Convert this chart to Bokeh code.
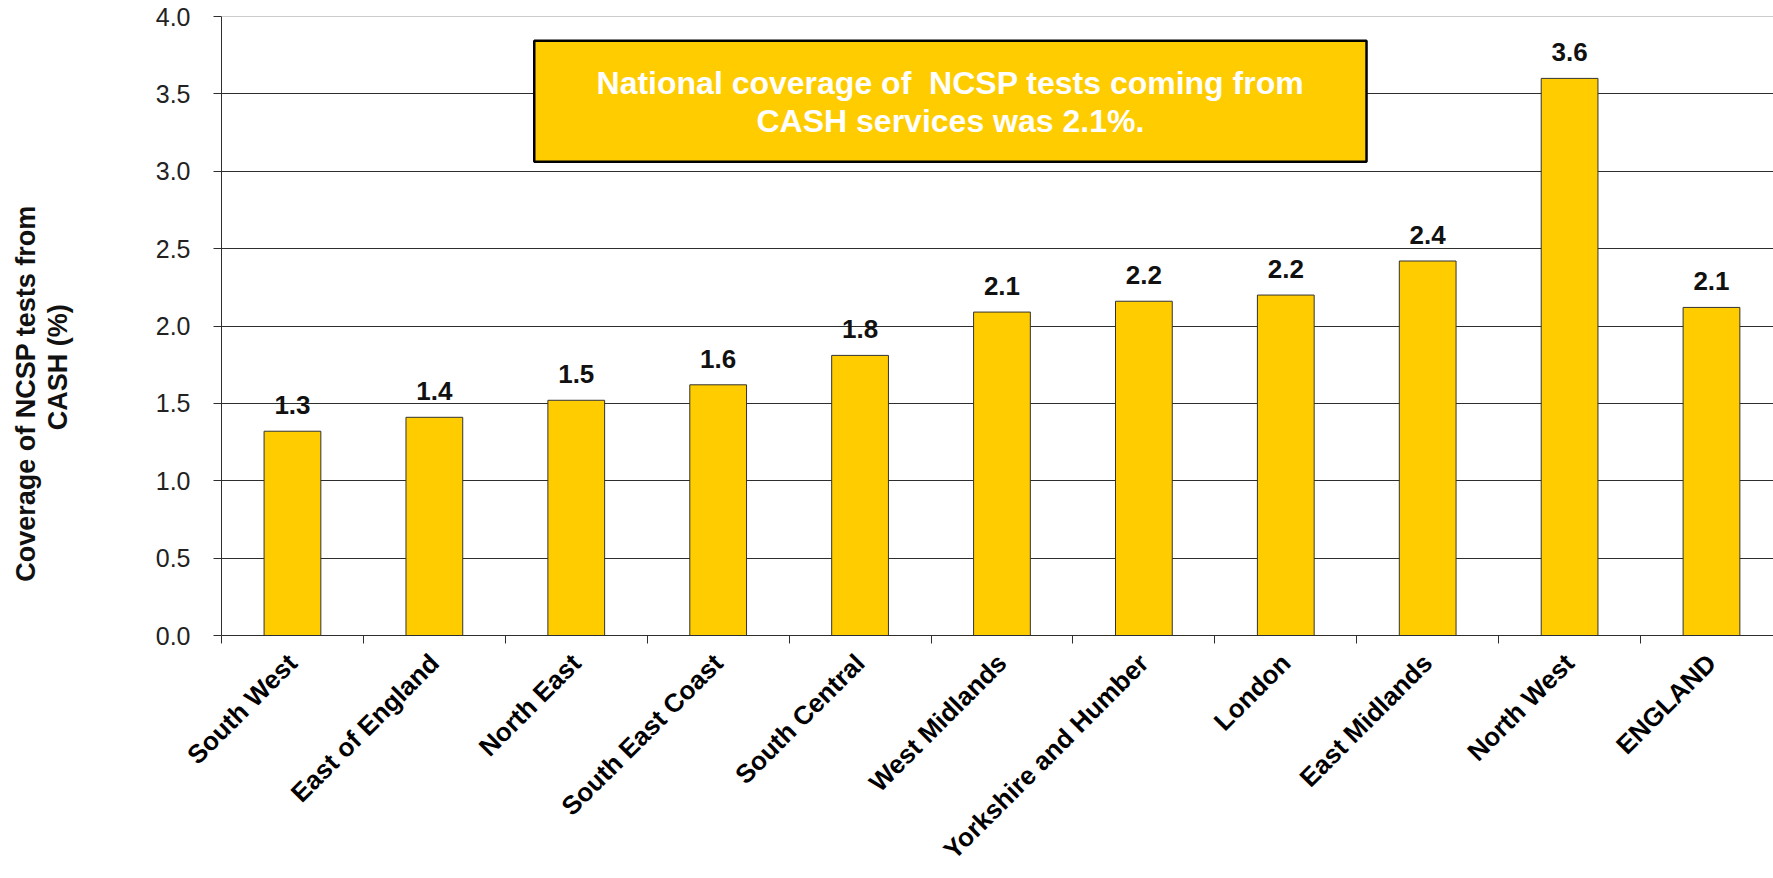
import math
from bokeh.plotting import figure
from bokeh.models import (Range1d, FixedTicker, NumeralTickFormatter, ColumnDataSource,
                          LabelSet, BoxAnnotation, Label, Span)
from bokeh.embed import file_html
from bokeh.resources import INLINE
from bokeh.core.properties import value

# ---------------- data ----------------
regions = ["South West", "East of England", "North East", "South East Coast",
           "South Central", "West Midlands", "Yorkshire and Humber", "London",
           "East Midlands", "North West", "ENGLAND"]
coverage = [1.32, 1.41, 1.52, 1.62, 1.81, 2.09, 2.16, 2.20, 2.42, 3.60, 2.12]
value_labels = ["1.3", "1.4", "1.5", "1.6", "1.8", "2.1", "2.2", "2.2", "2.4", "3.6", "2.1"]
y_ticks = [0.0, 0.5, 1.0, 1.5, 2.0, 2.5, 3.0, 3.5, 4.0]
note_lines = ["National coverage of \u00a0NCSP tests coming from",
              "CASH services was 2.1%."]
y_title_lines = ["Coverage of NCSP tests from", "CASH (%)"]

# ---------------- layout ----------------
n = len(regions)
centers = [i + 0.5 for i in range(n)]
boundaries = list(range(n + 1))

FONT = "Liberation Sans"
GOLD = "#FFCC00"
DARK = "#2e2e2e"

p = figure(width=1773, height=878,
           x_range=Range1d(0, 10.937), y_range=Range1d(0, 4.0),
           output_backend="svg", toolbar_location=None,
           min_border_left=221, min_border_right=0,
           min_border_top=16, min_border_bottom=242)
p.outline_line_color = None
p.background_fill_color = "white"
p.border_fill_color = "white"

# bars
src = ColumnDataSource(dict(x=centers, top=coverage, lab=value_labels))
p.vbar(x="x", top="top", bottom=0, width=0.4, source=src,
       fill_color=GOLD, line_color="#333333", line_width=1)

# grid
p.xgrid.grid_line_color = None
p.ygrid.ticker = FixedTicker(ticks=y_ticks[:-1])
p.ygrid.grid_line_color = DARK
p.ygrid.grid_line_width = 1
p.add_layout(Span(location=y_ticks[-1], dimension="width",
                  line_color="#9a9a9a", line_width=1))

# y axis
ya = p.yaxis[0]
ya.ticker = FixedTicker(ticks=y_ticks, minor_ticks=[])
ya.formatter = NumeralTickFormatter(format="0.0")
ya.major_tick_out = 8
ya.major_tick_in = 0
ya.minor_tick_line_color = None
ya.axis_line_color = DARK
ya.major_tick_line_color = DARK
ya.major_label_text_font = FONT
ya.major_label_text_font_size = "25px"
ya.major_label_text_color = "#222222"
ya.major_label_standoff = 23
# trailing no-break spaces shift each centred line toward the lower end, as in the original
pad = "\u00a0"
ya.axis_label = y_title_lines[0] + pad * 18 + "\n" + y_title_lines[1] + pad * 11
ya.axis_label_text_font = FONT
ya.axis_label_text_font_style = "bold"
ya.axis_label_text_font_size = "27px"
ya.axis_label_text_line_height = 1.05
ya.axis_label_text_color = "#111111"
ya.axis_label_standoff = 80

# x axis: labels at category centres, tick marks between categories
xa = p.xaxis[0]
xa.ticker = FixedTicker(ticks=centers, minor_ticks=boundaries)
xa.major_label_overrides = {c: r for c, r in zip(centers, regions)}
xa.major_label_orientation = math.pi / 4
xa.major_label_text_font = FONT
xa.major_label_text_font_style = "bold"
xa.major_label_text_font_size = "26px"
xa.major_label_text_color = "black"
xa.major_label_standoff = 15
xa.major_tick_line_color = None
xa.major_tick_out = 8
xa.major_tick_in = 0
xa.minor_tick_line_color = DARK
xa.minor_tick_out = 8
xa.minor_tick_in = 0
xa.axis_line_color = DARK

# value labels
p.add_layout(LabelSet(x="x", y="top", text="lab", source=src,
                      text_align="center", text_baseline="alphabetic",
                      y_offset=17, text_font=value(FONT), text_font_style="bold",
                      text_font_size="26px", text_color="#111111"))

# note box
box_l, box_r, box_b, box_t = 2.204, 8.069, 3.062, 3.843
p.add_layout(BoxAnnotation(left=box_l, right=box_r, bottom=box_b, top=box_t,
                           fill_color=GOLD, fill_alpha=1.0,
                           line_color="black", line_width=2.5, line_alpha=1.0,
                           level="overlay"))
cx = (box_l + box_r) / 2
cy = (box_b + box_t) / 2
for line, off in zip(note_lines, [18, -20]):
    p.add_layout(Label(x=cx, y=cy, text=line, y_offset=off,
                       text_align="center", text_baseline="alphabetic",
                       text_font=FONT, text_font_style="bold",
                       text_font_size="32px", text_color="white", level="overlay"))

open("out.html", "w").write(file_html(p, INLINE))
